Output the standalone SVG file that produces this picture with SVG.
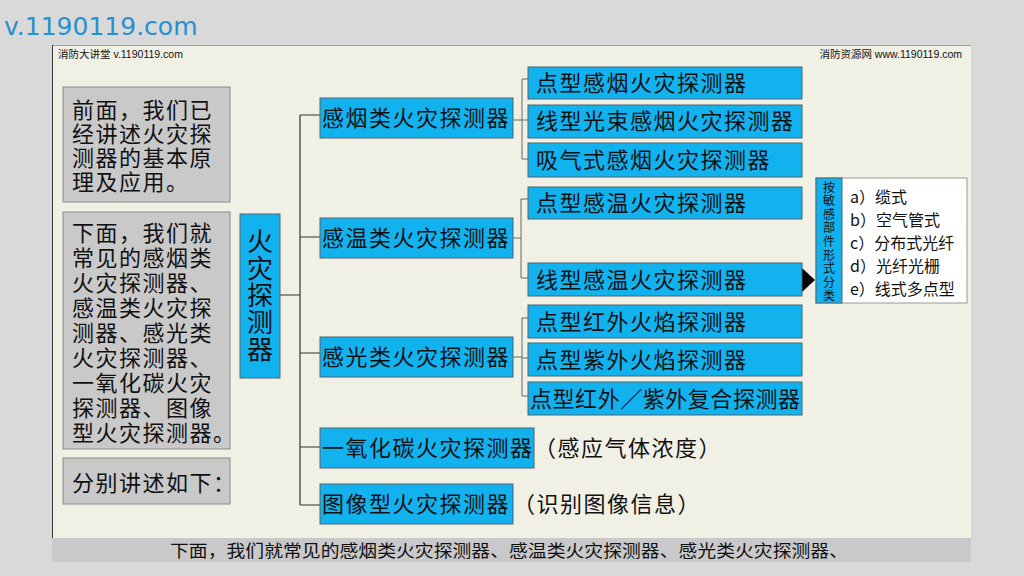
<svg xmlns="http://www.w3.org/2000/svg" width="1024" height="576" viewBox="0 0 1024 576">
<style>
.cj{font-family:"Noto Sans CJK SC","Noto Sans",sans-serif;fill:#111}
.t21{font-size:22px;letter-spacing:1.5px}
.blue{fill:#12b2ef;stroke:#4d6470;stroke-width:1}
.gray{fill:#c9c9c9;stroke:#8a8a8a;stroke-width:1}
.ln{stroke:#333;stroke-width:1.2;fill:none}
.ln2{stroke:#666;stroke-width:1;fill:none}
</style>
<rect width="1024" height="576" fill="#d9d9d9"/>
<text x="4" y="35" font-family="DejaVu Sans,sans-serif" font-size="25" fill="#2690d0">v.1190119.com</text>
<rect x="52" y="45" width="919" height="493" fill="#f1f0e5"/>
<line x1="52" y1="45.5" x2="971" y2="45.5" stroke="#a0a0a0"/>
<line x1="52.5" y1="45" x2="52.5" y2="538" stroke="#333"/>
<rect x="52" y="538" width="919" height="24" fill="#c9c9c9"/>
<text x="170" y="557" class="cj" font-size="17" textLength="678" lengthAdjust="spacingAndGlyphs">下面，我们就常见的感烟类火灾探测器、感温类火灾探测器、感光类火灾探测器、</text>
<text x="58" y="58" class="cj" font-size="10.5" style="font-family:'Liberation Sans','Noto Sans CJK SC',sans-serif">消防大讲堂 v.1190119.com</text>
<text x="962" y="58" class="cj" font-size="10.5" text-anchor="end" style="font-family:'Liberation Sans','Noto Sans CJK SC',sans-serif">消防资源网 www.1190119.com</text>

<g id="connectors">
<path class="ln" d="M280 295H300M300 115V505M300 115H320M300 237H320M300 353H320M300 447H320M300 505H320"/>
<path class="ln2" d="M513 120H522M522 79V159M522 79H528M522 159H528M522 120H528"/>
<path class="ln2" d="M513 238H521M521 199V278M521 199H528M521 278H528"/>
<path class="ln2" d="M513 357H522M522 318V396M522 318H528M522 358H528M522 396H528"/>
<polygon points="802,268 815,280 802,292" fill="#000"/>
</g>

<g id="intro1"><rect class="gray" x="63" y="87" width="167" height="115"/>
<text class="cj t21"><tspan x="72" y="118">前面，我们已</tspan><tspan x="72" y="142">经讲述火灾探</tspan><tspan x="72" y="166">测器的基本原</tspan><tspan x="72" y="190">理及应用。</tspan></text></g>

<g id="intro2"><rect class="gray" x="63" y="212" width="167" height="237"/>
<text class="cj t21"><tspan x="72" y="241">下面，我们就</tspan><tspan x="72" y="266">常见的感烟类</tspan><tspan x="72" y="291">火灾探测器、</tspan><tspan x="72" y="316">感温类火灾探</tspan><tspan x="72" y="341">测器、感光类</tspan><tspan x="72" y="366">火灾探测器、</tspan><tspan x="72" y="391">一氧化碳火灾</tspan><tspan x="72" y="416">探测器、图像</tspan><tspan x="72" y="441">型火灾探测器。</tspan></text></g>

<g id="intro3"><rect class="gray" x="63" y="458" width="167" height="46"/>
<text class="cj t21" x="72" y="491">分别讲述如下：</text></g>

<g id="root"><rect class="blue" x="240" y="214" width="40" height="164"/>
<text class="cj" font-size="26" x="260" y="228" writing-mode="vertical-rl" letter-spacing="1">火灾探测器</text></g>

<g id="smoke"><rect class="blue" x="320" y="98" width="193" height="40"/><text class="cj t21" x="322" y="126">感烟类火灾探测器</text></g>
<g id="heat"><rect class="blue" x="320" y="218" width="193" height="40"/><text class="cj t21" x="322" y="246">感温类火灾探测器</text></g>
<g id="light"><rect class="blue" x="320" y="337" width="193" height="40"/><text class="cj t21" x="322" y="365">感光类火灾探测器</text></g>
<g id="co"><rect class="blue" x="320" y="428" width="214" height="40"/><text class="cj t21" x="322" y="456">一氧化碳火灾探测器</text>
<text class="cj t21" x="534" y="456">（感应气体浓度）</text></g>
<g id="image"><rect class="blue" x="320" y="484" width="193" height="40"/><text class="cj t21" x="322" y="512">图像型火灾探测器</text>
<text class="cj t21" x="513" y="512">（识别图像信息）</text></g>

<g id="s1"><rect class="blue" x="528" y="67" width="274" height="32"/><text class="cj t21" x="536" y="91">点型感烟火灾探测器</text></g>
<g id="s2"><rect class="blue" x="528" y="105" width="274" height="33"/><text class="cj t21" x="536" y="129">线型光束感烟火灾探测器</text></g>
<g id="s3"><rect class="blue" x="528" y="143" width="274" height="34"/><text class="cj t21" x="536" y="168">吸气式感烟火灾探测器</text></g>
<g id="h1"><rect class="blue" x="528" y="187" width="274" height="32"/><text class="cj t21" x="536" y="211">点型感温火灾探测器</text></g>
<g id="h2"><rect class="blue" x="528" y="263" width="274" height="33"/><text class="cj t21" x="536" y="288">线型感温火灾探测器</text></g>
<g id="l1"><rect class="blue" x="528" y="305" width="274" height="33"/><text class="cj t21" x="536" y="330">点型红外火焰探测器</text></g>
<g id="l2"><rect class="blue" x="528" y="343" width="274" height="33"/><text class="cj t21" x="536" y="368">点型紫外火焰探测器</text></g>
<g id="l3"><rect class="blue" x="528" y="382" width="274" height="33"/><text class="cj" font-size="22" x="530" y="407" textLength="270" lengthAdjust="spacing">点型红外／紫外复合探测器</text></g>

<g id="types"><rect x="816" y="178" width="151" height="125" fill="#fff" stroke="#999"/>
<rect class="blue" x="816" y="178" width="26" height="125" stroke="none"/>
<text class="cj" font-size="12" x="829" y="181" writing-mode="vertical-rl" letter-spacing="1.6">按敏感部件形式分类</text>
<text class="cj" font-size="16"><tspan x="850" y="203">a）缆式</tspan><tspan x="850" y="226">b）空气管式</tspan><tspan x="850" y="249">c）分布式光纤</tspan><tspan x="850" y="272">d）光纤光栅</tspan><tspan x="850" y="295">e）线式多点型</tspan></text></g>
</svg>
